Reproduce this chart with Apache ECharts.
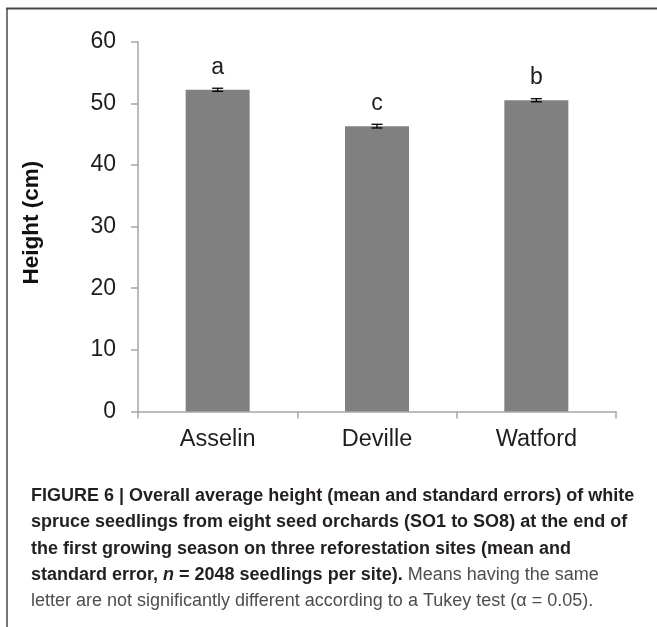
<!DOCTYPE html>
<html>
<head>
<meta charset="utf-8">
<script src="https://cdn.jsdelivr.net/npm/echarts@6/dist/echarts.min.js"></script>
<style>
  html, body { margin: 0; padding: 0; background: #ffffff; }
  #chart { width: 657px; height: 627px; }
</style>
</head>
<body>
<div id="chart"></div>
<script>
// Reforestation sites and first-season seedling heights (cm)
const sites = ['Asselin', 'Deville', 'Watford'];
const meanHeight = [52.2, 46.3, 50.5];
const stdError = [0.25, 0.3, 0.25];
// Tukey grouping letters
const groupLetters = ['a', 'c', 'b'];
// Value axis range
const yMin = 0;
const yMax = 60;
const yStep = 10;

// Figure caption, one entry per printed line (rich-text markup)
const captionLines = [
  '{b|FIGURE 6 | Overall average height (mean and standard errors) of white}',
  '{b|spruce seedlings from eight seed orchards (SO1 to SO8) at the end of}',
  '{b|the first growing season on three reforestation sites (mean and}',
  '{b|standard error, }{bi|n}{b| = 2048 seedlings per site).}{r| Means having the same}',
  '{r|letter are not significantly different according to a Tukey test (\u03b1 = 0.05).}'
];

const chart = echarts.init(document.getElementById('chart'), null, { renderer: 'canvas' });
const FONT = '"Liberation Sans", Arial, Helvetica, sans-serif';
const CAPFONT = '"Liberation Sans", Arial, Helvetica, sans-serif';
const CAPSIZE = 18;

const captionRich = {
  b:  { fontFamily: CAPFONT, fontSize: CAPSIZE, fontWeight: 'bold', fill: '#231f20' },
  bi: { fontFamily: CAPFONT, fontSize: CAPSIZE, fontWeight: 'bold', fontStyle: 'italic', fill: '#231f20' },
  r:  { fontFamily: CAPFONT, fontSize: CAPSIZE, fontWeight: 'normal', fill: '#4d4d4d' }
};

const graphics = [
  // frame: top rule and left rule
  { type: 'line', shape: { x1: 6, y1: 8.5, x2: 657, y2: 8.5 }, style: { stroke: '#4a4a4a', lineWidth: 2 }, silent: true },
  { type: 'line', shape: { x1: 7, y1: 8, x2: 7, y2: 627 }, style: { stroke: '#4a4a4a', lineWidth: 1.5 }, silent: true }
];
captionLines.forEach(function (line, i) {
  graphics.push({
    type: 'text',
    left: 31,
    top: 487 + i * 26.3,
    silent: true,
    style: { text: line, rich: captionRich, fontFamily: CAPFONT, fontSize: CAPSIZE }
  });
});

const option = {
  backgroundColor: '#ffffff',
  animation: false,
  textStyle: { fontFamily: FONT },
  grid: { left: 138, right: 41, top: 41.7, bottom: 215.5, containLabel: false },
  xAxis: {
    type: 'category',
    data: sites,
    boundaryGap: true,
    axisLine: { lineStyle: { color: '#a6a6a6', width: 1.5 } },
    axisTick: { show: true, length: 7, alignWithLabel: false, lineStyle: { color: '#a6a6a6', width: 1.5 } },
    axisLabel: { fontSize: 23.5, color: '#1e1e1e', margin: 16, fontFamily: FONT }
  },
  yAxis: {
    type: 'value',
    min: yMin,
    max: yMax,
    interval: yStep,
    name: 'Height (cm)',
    nameLocation: 'middle',
    nameGap: 95,
    nameTextStyle: { fontSize: 22.5, fontWeight: 'bold', color: '#111111', fontFamily: FONT, padding: [0, 0, 0, 8] },
    axisLine: { show: true, lineStyle: { color: '#a6a6a6', width: 1.5 } },
    axisTick: { show: true, length: 7, lineStyle: { color: '#a6a6a6', width: 1.5 } },
    splitLine: { show: false },
    axisLabel: { fontSize: 23, color: '#1e1e1e', margin: 22, fontFamily: FONT }
  },
  series: [
    {
      type: 'bar',
      data: meanHeight,
      barWidth: 64,
      itemStyle: { color: '#808080' },
      label: {
        show: true,
        position: 'top',
        distance: 11,
        fontSize: 23,
        color: '#1e1e1e',
        fontFamily: FONT,
        formatter: function (p) { return groupLetters[p.dataIndex]; }
      },
      z: 2
    },
    {
      type: 'custom',
      data: meanHeight.map(function (v, i) { return [i, v - stdError[i], v + stdError[i]]; }),
      renderItem: function (params, api) {
        const lo = api.coord([api.value(0), api.value(1)]);
        const hi = api.coord([api.value(0), api.value(2)]);
        const half = 5.5;
        return {
          type: 'group',
          children: [
            { type: 'line', shape: { x1: lo[0], y1: lo[1], x2: hi[0], y2: hi[1] }, style: { stroke: '#000', lineWidth: 1.3 } },
            { type: 'line', shape: { x1: lo[0] - half, y1: lo[1], x2: lo[0] + half, y2: lo[1] }, style: { stroke: '#000', lineWidth: 1.3 } },
            { type: 'line', shape: { x1: hi[0] - half, y1: hi[1], x2: hi[0] + half, y2: hi[1] }, style: { stroke: '#000', lineWidth: 1.3 } }
          ]
        };
      },
      z: 3
    }
  ],
  graphic: graphics
};

chart.setOption(option);
</script>
</body>
</html>
